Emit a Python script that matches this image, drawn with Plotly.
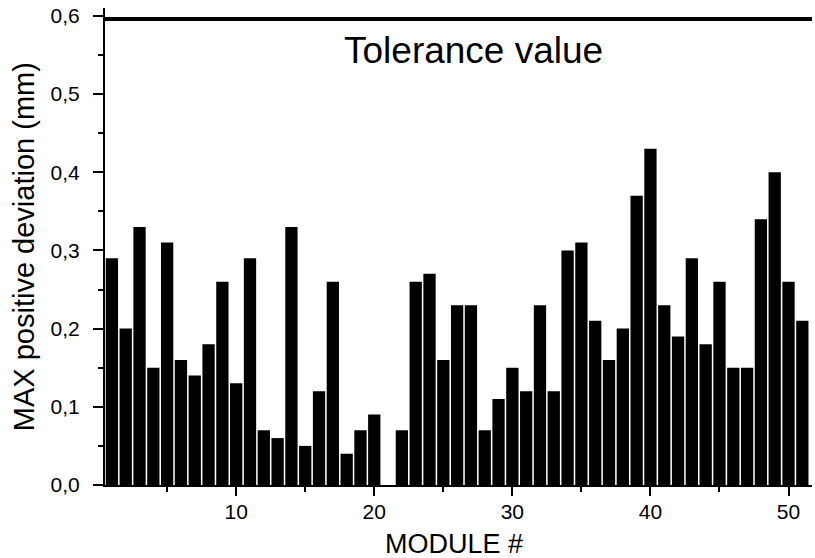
import plotly.graph_objects as go

modules = list(range(1, 52))
max_dev = [0.29, 0.20, 0.33, 0.15, 0.31, 0.16, 0.14, 0.18, 0.26, 0.13,
           0.29, 0.07, 0.06, 0.33, 0.05, 0.12, 0.26, 0.04, 0.07, 0.09,
           0.00, 0.07, 0.26, 0.27, 0.16, 0.23, 0.23, 0.07, 0.11, 0.15,
           0.12, 0.23, 0.12, 0.30, 0.31, 0.21, 0.16, 0.20, 0.37, 0.43,
           0.23, 0.19, 0.29, 0.18, 0.26, 0.15, 0.15, 0.34, 0.40, 0.26,
           0.21]
tolerance = 0.596
tolerance_label = "Tolerance value"
x_title = "MODULE #"
y_title = "MAX positive deviation (mm)"

FONT = "Liberation Sans, Arial, Helvetica, sans-serif"

fig = go.Figure()
fig.add_trace(go.Bar(x=modules, y=max_dev, marker=dict(color="black", line=dict(width=0)),
                     showlegend=False))

fig.add_shape(type="line", xref="paper", yref="y", x0=0, x1=1, y0=tolerance, y1=tolerance,
              line=dict(color="black", width=4))
fig.add_annotation(x=27.2, y=0.556, xref="x", yref="y", text=tolerance_label,
                   showarrow=False, font=dict(family=FONT, size=37, color="black"),
                   xanchor="center", yanchor="middle")
fig.add_annotation(x=0.494, y=-0.124, xref="paper", yref="paper", text=x_title,
                   showarrow=False, font=dict(family=FONT, size=27, color="black"),
                   xanchor="center", yanchor="middle")
fig.add_annotation(x=-0.115, y=0.5, xref="paper", yref="paper", text=y_title, textangle=-90,
                   showarrow=False, font=dict(family=FONT, size=29, color="black"),
                   xanchor="center", yanchor="middle")

fig.update_layout(
    width=815, height=558,
    margin=dict(l=105, r=3, t=8, b=73),
    paper_bgcolor="white", plot_bgcolor="white",
    separators=",.",
    bargap=0.11,
    font=dict(family=FONT, color="black"),
)
fig.update_xaxes(
    range=[0.5, 51.7], showgrid=False, zeroline=False, automargin=False,
    showline=True, linecolor="black", linewidth=2,
    ticks="outside", tickmode="linear", tick0=0, dtick=10, ticklen=9, tickwidth=2, tickcolor="black",
    minor=dict(ticks="outside", tick0=0, dtick=5, ticklen=5, tickwidth=2, tickcolor="black"),
    tickfont=dict(family=FONT, size=21, color="black"),
    ticklabelstandoff=-2, ticklabeloverflow="allow",
)
fig.update_yaxes(
    range=[0, 0.61], showgrid=False, zeroline=False, automargin=False,
    showline=True, linecolor="black", linewidth=2,
    ticks="outside", tickmode="linear", tick0=0, dtick=0.1, ticklen=10, tickwidth=2, tickcolor="black",
    minor=dict(ticks="outside", tick0=0, dtick=0.05, ticklen=5, tickwidth=2, tickcolor="black"),
    tickformat=".1f",
    tickfont=dict(family=FONT, size=21, color="black"),
    ticklabelstandoff=9, ticklabeloverflow="allow",
)

fig.write_html("out.html", config={"displayModeBar": False},
               post_script="document.body.style.margin='0';")
